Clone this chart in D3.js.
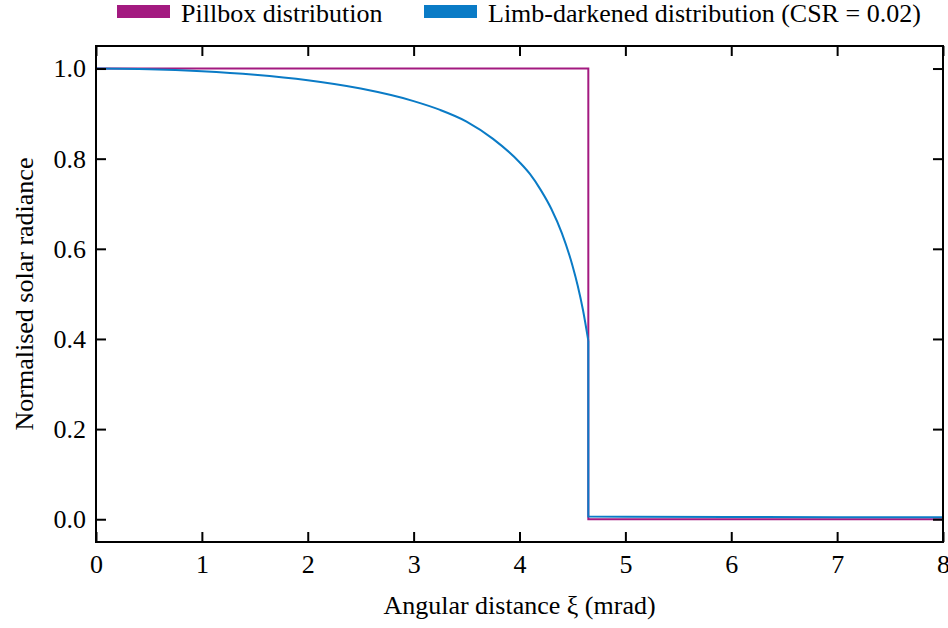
<!DOCTYPE html>
<html><head>
<script src="https://cdn.jsdelivr.net/npm/d3@7/dist/d3.min.js"></script>
</head><body><svg id="c" width="948" height="628" style="position:absolute;left:0;top:0"></svg>
<script>
// Data
const xTicks = [0,1,2,3,4,5,6,7,8];
const yTicks = [0.0,0.2,0.4,0.6,0.8,1.0];
const seriesNames = ["Pillbox distribution","Limb-darkened distribution (CSR = 0.02)"];
const pillX = [0, 4.65, 4.65, 8];
const pillY = [1, 1, 0, 0];
const diskX = [0, 0.5, 1, 1.5, 2, 2.5, 3, 3.25, 3.5, 3.75, 4, 4.1, 4.2, 4.3, 4.4, 4.5, 4.55, 4.6, 4.65];
const diskY = [1, 0.9986, 0.9941, 0.9862, 0.9739, 0.9555, 0.9277, 0.9082, 0.8824, 0.8439, 0.7921, 0.7655, 0.7308, 0.6889, 0.6348, 0.5631, 0.518, 0.4636, 0.396];
const auraX = [4.65, 4.65, 5, 6, 7, 8];
const auraY = [0.396, 0.0058, 0.0054, 0.0048, 0.0045, 0.0042];
const colors = ["#a31a80","#0a7bc6"];

const svg = d3.select("#c");
const L = 96, R = 943, T = 46, B = 542;
const x = d3.scaleLinear().domain([0,8]).range([L,R]);
const y = d3.scaleLinear().domain([-0.0505,1.05]).range([B,T]);
function serif(sel){ return sel.attr("font-size",26).style("font-family",'"Times New Roman"'); }

const line = d3.line().x(d=>x(d[0])).y(d=>y(d[1]));
svg.append("path").datum(pillX.map((v,i)=>[v,pillY[i]])).attr("d",line).attr("fill","none").attr("stroke",colors[0]).attr("stroke-width",2);
svg.append("path").datum(diskX.map((v,i)=>[v,diskY[i]])).attr("d",d3.line().curve(d3.curveMonotoneX).x(d=>x(d[0])).y(d=>y(d[1]))).attr("fill","none").attr("stroke",colors[1]).attr("stroke-width",2);
svg.append("path").datum(auraX.map((v,i)=>[v,auraY[i]])).attr("d",line).attr("fill","none").attr("stroke",colors[1]).attr("stroke-width",2);

// Axes with inward ticks
const axB = svg.append("g").attr("transform",`translate(0,${B})`).call(d3.axisBottom(x).tickValues(xTicks).tickSizeInner(-10).tickSizeOuter(0).tickPadding(13).tickFormat(d3.format("d")));
const axT = svg.append("g").attr("transform",`translate(0,${T})`).call(d3.axisTop(x).tickValues(xTicks).tickSizeInner(-10).tickSizeOuter(0).tickFormat(""));
const axL = svg.append("g").attr("transform",`translate(${L},0)`).call(d3.axisLeft(y).tickValues(yTicks).tickSizeInner(-10).tickSizeOuter(0).tickPadding(10).tickFormat(d3.format(".1f")));
const axR = svg.append("g").attr("transform",`translate(${R},0)`).call(d3.axisRight(y).tickValues(yTicks).tickSizeInner(-10).tickSizeOuter(0).tickFormat(""));
[axB,axT,axL,axR].forEach(a=>{
  a.attr("font-family",null).attr("font-size",null);
  serif(a.selectAll("text")).attr("fill","#000");
  a.selectAll("line").attr("stroke","#000").attr("stroke-width",2);
  a.select(".domain").remove();
});
svg.append("rect").attr("x",L).attr("y",T).attr("width",R-L).attr("height",B-T).attr("fill","none").attr("stroke","#000").attr("stroke-width",2);

serif(svg.append("text").attr("x",(L+R)/2).attr("y",614).attr("text-anchor","middle")).text("Angular distance ξ (mrad)");
serif(svg.append("text").attr("transform",`translate(33,${(T+B)/2}) rotate(-90)`).attr("text-anchor","middle")).text("Normalised solar radiance");

// Legend
const legX = [117, 424];
seriesNames.forEach((n,i)=>{
  svg.append("rect").attr("x",legX[i]).attr("y",5).attr("width",53).attr("height",13).attr("fill",colors[i]);
  serif(svg.append("text").attr("x",legX[i]+64).attr("y",22)).text(n);
});
</script></body></html>
